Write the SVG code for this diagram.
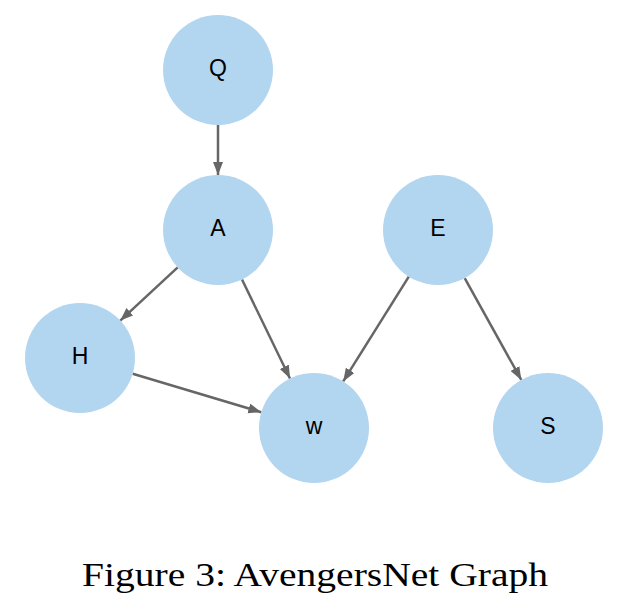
<svg xmlns="http://www.w3.org/2000/svg" width="628" height="614" viewBox="0 0 628 614">
<style>
.node circle{fill:#b2d5f0;}
.node text{font-family:"Liberation Sans",Arial,sans-serif;font-size:23px;fill:#000;text-anchor:middle;dominant-baseline:central;}
.edges line{stroke:#666;stroke-width:2.5;}
.cap{font-family:"Liberation Serif","DejaVu Serif",serif;font-size:33px;fill:#000;text-anchor:middle;}
</style>
<defs>
<marker id="ah" markerUnits="userSpaceOnUse" markerWidth="14" markerHeight="11" refX="13" refY="5" orient="auto">
<path d="M0,0 L13,5 L0,10 z" fill="#666"/>
</marker>
</defs>
<rect width="628" height="614" fill="#fff"/>
<g id="edges" class="edges">
<line x1="218" y1="125" x2="218" y2="175" marker-end="url(#ah)"/>
<line x1="177.7" y1="267.4" x2="120.3" y2="320.6" marker-end="url(#ah)"/>
<line x1="242" y1="279.5" x2="290" y2="378.5" marker-end="url(#ah)"/>
<line x1="132.7" y1="373.8" x2="261.3" y2="412.2" marker-end="url(#ah)"/>
<line x1="408.8" y1="276.6" x2="343.2" y2="381.4" marker-end="url(#ah)"/>
<line x1="464.7" y1="278.1" x2="521.3" y2="379.9" marker-end="url(#ah)"/>
</g>
<g id="node-Q" class="node"><circle cx="218" cy="70" r="55"/><text x="218" y="68">Q</text></g>
<g id="node-A" class="node"><circle cx="218" cy="230" r="55"/><text x="218" y="228">A</text></g>
<g id="node-E" class="node"><circle cx="438" cy="230" r="55"/><text x="438" y="228">E</text></g>
<g id="node-H" class="node"><circle cx="80" cy="358" r="55"/><text x="80" y="356">H</text></g>
<g id="node-w" class="node"><circle cx="314" cy="428" r="55"/><text x="314" y="426">w</text></g>
<g id="node-S" class="node"><circle cx="548" cy="428" r="55"/><text x="548" y="426">S</text></g>
<text class="cap" x="315" y="586" textLength="466" lengthAdjust="spacingAndGlyphs">Figure 3: AvengersNet Graph</text>
</svg>
